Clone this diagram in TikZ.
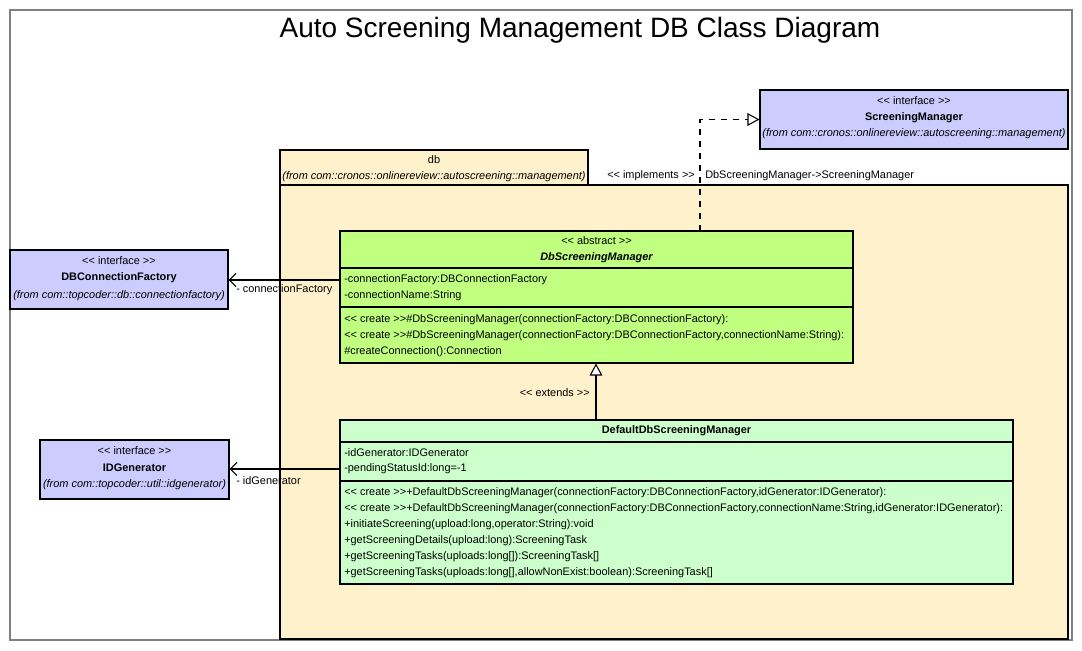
\documentclass[tikz,border=0pt]{standalone}
\usepackage{fontspec}
\setmainfont{Liberation Sans}[Ligatures=TeXOff]
\usetikzlibrary{positioning,arrows.meta,fit}

\definecolor{ifacefill}{RGB}{204,204,255}
\definecolor{pkgfill}{RGB}{255,241,204}
\definecolor{absfill}{RGB}{192,255,128}
\definecolor{deffill}{RGB}{204,255,204}
\newcommand\umlfont{\fontsize{8.2}{10}\selectfont}

\begin{document}
\begin{tikzpicture}[x=0.75pt,y=-0.75pt,
  box/.style={draw,line width=0.8pt,inner sep=0pt},
  iface/.style={box,fill=ifacefill},
  pkg/.style={box,fill=pkgfill},
  txt/.style={inner sep=0pt,font=\umlfont},
  ltxt/.style={txt,anchor=west},
  bold/.style={inner sep=0pt,font=\umlfont\bfseries},
  from/.style={inner sep=0pt,font=\umlfont\itshape},
  assoc/.style={line width=0.8pt,-{Straight Barb[length=5pt,width=10pt]}},
  gen/.style={line width=0.8pt,-{Triangle[open,fill=white,length=9pt,width=9.5pt]}}]
  \useasboundingbox (0,0) rectangle (1082,650);
  % 外枠
  \draw[gray,line width=1pt] (10,10) rectangle (1072,640);
  \node[inner sep=0pt,font=\fontsize{21}{24}\selectfont] (title) at (580,30)
    {Auto Screening Management DB Class Diagram};
  % パッケージ db
  \node[pkg,fit={(280,185) (1068,639)}] (pkgbody) {};
  \node[pkg,fit={(280,150) (588,185)}] (pkgtab) {};
  \node[txt] (pkgname) at (434,160) {db};
  \node[from] (pkgfrom) at (434,177) {(from com::cronos::onlinereview::autoscreening::management)};
  % インタフェース ScreeningManager
  \node[iface,fit={(760,90) (1068,149)}] (sm) {};
  \node[txt] (sm-st) at (914,101) {<< interface >>};
  \node[bold] (sm-name) at (914,118) {ScreeningManager};
  \node[from] (sm-from) at (914,134) {(from com::cronos::onlinereview::autoscreening::management)};
  % インタフェース DBConnectionFactory
  \node[iface,fit={(10,250) (228,309)}] (dbcf) {};
  \node[txt] (dbcf-st) at (119,261) {<< interface >>};
  \node[bold] (dbcf-name) at (119,278) {DBConnectionFactory};
  \node[from] (dbcf-from) at (119,296) {(from com::topcoder::db::connectionfactory)};
  % インタフェース IDGenerator
  \node[iface,fit={(40,440) (229,499)}] (idg) {};
  \node[txt] (idg-st) at (134.5,451) {<< interface >>};
  \node[bold] (idg-name) at (134.5,468) {IDGenerator};
  \node[from] (idg-from) at (134.5,485) {(from com::topcoder::util::idgenerator)};
  % 抽象クラス DbScreeningManager
  \node[box,fill=absfill,fit={(340,231) (853,363)}] (abs) {};
  \draw[line width=0.8pt] (340,268) -- (853,268) (340,307) -- (853,307);
  \node[txt] (abs-st) at (596.5,241) {<< abstract >>};
  \node[inner sep=0pt,font=\umlfont\bfseries\itshape] (abs-name) at (596.5,258) {DbScreeningManager};
  \node[ltxt] (abs-a1) at (344,280) {-connectionFactory:DBConnectionFactory};
  \node[ltxt] (abs-a2) at (344,296) {-connectionName:String};
  \node[ltxt] (abs-o1) at (344,320) {<< create >>\#DbScreeningManager(connectionFactory:DBConnectionFactory):};
  \node[ltxt] (abs-o2) at (344,336) {<< create >>\#DbScreeningManager(connectionFactory:DBConnectionFactory,connectionName:String):};
  \node[ltxt] (abs-o3) at (344,352) {\#createConnection():Connection};
  % クラス DefaultDbScreeningManager
  \node[box,fill=deffill,fit={(340,420) (1013,584)}] (def) {};
  \draw[line width=0.8pt] (340,442) -- (1013,442) (340,481) -- (1013,481);
  \node[bold] (def-name) at (676.5,431) {DefaultDbScreeningManager};
  \node[ltxt] (def-a1) at (344,453) {-idGenerator:IDGenerator};
  \node[ltxt] (def-a2) at (344,469) {-pendingStatusId:long=-1};
  \node[ltxt] (def-o1) at (344,493) {<< create >>+DefaultDbScreeningManager(connectionFactory:DBConnectionFactory,idGenerator:IDGenerator):};
  \node[ltxt] (def-o2) at (344,509) {<< create >>+DefaultDbScreeningManager(connectionFactory:DBConnectionFactory,connectionName:String,idGenerator:IDGenerator):};
  \node[ltxt] (def-o3) at (344,525) {+initiateScreening(upload:long,operator:String):void};
  \node[ltxt] (def-o4) at (344,541) {+getScreeningDetails(upload:long):ScreeningTask};
  \node[ltxt] (def-o5) at (344,557) {+getScreeningTasks(uploads:long[]):ScreeningTask[]};
  \node[ltxt] (def-o6) at (344,573) {+getScreeningTasks(uploads:long[],allowNonExist:boolean):ScreeningTask[]};
  % 実現
  \coordinate (abs-impl) at (700,231);
  \draw[line width=0.8pt,dash pattern=on 4.5pt off 4.5pt,
    -{Triangle[open,fill=white,length=9pt,width=9.5pt]}] (abs-impl) |- (sm.west);
  \node[ltxt] (impl-st) at (607,176) {<< implements >>};
  \node[ltxt] (impl-name) at (705,176) {DbScreeningManager->ScreeningManager};
  % 継承
  \coordinate (def-ext) at (596,420);
  \draw[gen] (def-ext) -- (def-ext |- abs.south);
  \node[txt,anchor=east] (ext-st) at (590,393) {<< extends >>};
  % 関連
  \coordinate (abs-cf) at (340,280);
  \draw[assoc] (abs-cf) -- (abs-cf -| dbcf.east);
  \node[ltxt] (cf-role) at (236,290) {- connectionFactory};
  \coordinate (def-idg) at (340,469);
  \draw[assoc] (def-idg) -- (def-idg -| idg.east);
  \node[ltxt] (idg-role) at (236,481) {- idGenerator};
\end{tikzpicture}
\end{document}
